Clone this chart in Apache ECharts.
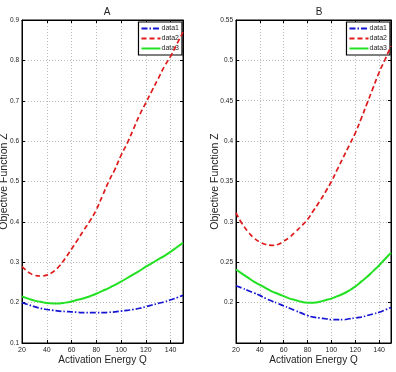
<!DOCTYPE html>
<html>
<head>
<meta charset="utf-8">
<script src="https://cdn.jsdelivr.net/npm/echarts@6/dist/echarts.min.js"></script>
<style>
  html, body { margin: 0; padding: 0; background: #fff; }
  #chart { width: 396px; height: 372px; }
</style>
</head>
<body>
<div id="chart"></div>
<script>
// Activation energy Q (x), shared by both panels
const q = [20, 25, 30, 35, 40, 45, 50, 55, 60, 65, 70, 75, 80, 85, 90, 95, 100,
           105, 110, 115, 120, 125, 130, 135, 140, 145, 150];

// Panel A
const aData1 = [0.200, 0.195, 0.190, 0.186, 0.183, 0.181, 0.179, 0.178, 0.177, 0.176, 0.175, 0.175, 0.175, 0.175,
                0.176, 0.177, 0.179, 0.181, 0.183, 0.186, 0.190, 0.194, 0.198, 0.202, 0.207, 0.212, 0.218];
const aData2 = [0.289, 0.276, 0.268, 0.266, 0.268, 0.276, 0.290, 0.310, 0.333, 0.356, 0.380, 0.403, 0.430, 0.465,
                0.500, 0.530, 0.565, 0.595, 0.630, 0.665, 0.695, 0.725, 0.755, 0.785, 0.810, 0.840, 0.870];
const aData3 = [0.215, 0.210, 0.205, 0.202, 0.199, 0.198, 0.198, 0.200, 0.203, 0.207, 0.211, 0.216, 0.222, 0.229,
                0.236, 0.244, 0.252, 0.261, 0.270, 0.279, 0.289, 0.298, 0.307, 0.316, 0.326, 0.337, 0.348];

// Panel B
const bData1 = [0.221, 0.218, 0.215, 0.212, 0.209, 0.205, 0.202, 0.199, 0.196, 0.193, 0.190, 0.187, 0.184, 0.182,
                0.181, 0.180, 0.179, 0.179, 0.179, 0.180, 0.181, 0.182, 0.184, 0.186, 0.188, 0.191, 0.194];
const bData2 = [0.311, 0.298, 0.288, 0.280, 0.275, 0.272, 0.271, 0.272, 0.276, 0.281, 0.288, 0.295, 0.303, 0.314,
                0.325, 0.337, 0.350, 0.365, 0.380, 0.395, 0.410, 0.428, 0.447, 0.466, 0.485, 0.501, 0.518];
const bData3 = [0.241, 0.236, 0.231, 0.226, 0.222, 0.218, 0.214, 0.211, 0.208, 0.205, 0.203, 0.201, 0.200, 0.200,
                0.201, 0.203, 0.205, 0.208, 0.211, 0.215, 0.220, 0.226, 0.232, 0.239, 0.246, 0.254, 0.262];

const titles = ["A", "B"];
const serieNames = ["data1", "data2", "data3"];
const xName = "Activation Energy Q";
const yName = "Objective Function Z";

const ink = "#222";
const font = "Liberation Sans, Arial, sans-serif";
const couleurs = ["#1414d2", "#e01a1a", "#22e022"];
const traits = [[6, 2, 1.5, 2], [5, 3], "solid"];
const largeurs = [1.7, 1.7, 2];

const grids = [
  { left: 22, right: 213, top: 20, bottom: 29 },
  { left: 236, right: 5, top: 20, bottom: 29 },
];
const yRanges = [
  { min: 0.1, max: 0.9, interval: 0.1 },
  { min: 0.15, max: 0.55, interval: 0.05 },
];

const pairs = (ys) => ys.map((y, i) => [q[i], y]);
const fmt = (v) => String(parseFloat(v.toFixed(2)));

const xAxis = [];
const yAxis = [];
grids.forEach((g, i) => {
  const base = { gridIndex: i, type: "value", min: 20, max: 150, interval: 20 };
  xAxis.push({
    ...base, position: "bottom",
    name: xName, nameLocation: "middle", nameGap: 12, nameMoveOverlap: false,
    nameTextStyle: { color: ink, fontSize: 10, fontFamily: font },
    axisLine: { lineStyle: { color: "#000", width: 1 } },
    axisTick: { inside: true, length: 3, lineStyle: { color: "#000" } },
    axisLabel: { color: ink, fontSize: 7, fontFamily: font, margin: 4, showMaxLabel: false },
    splitLine: { show: true, lineStyle: { color: "#bbb", type: [1, 2] } },
  });
  xAxis.push({
    ...base, position: "top",
    axisLine: { lineStyle: { color: "#000", width: 1 } },
    axisTick: { inside: true, length: 3, lineStyle: { color: "#000" } },
    axisLabel: { show: false }, splitLine: { show: false },
  });
  const yb = { gridIndex: i, type: "value", ...yRanges[i] };
  yAxis.push({
    ...yb, position: "left",
    name: yName, nameLocation: "middle", nameGap: i === 0 ? 12 : 15, nameMoveOverlap: false,
    nameTextStyle: { color: ink, fontSize: 10.5, fontFamily: font },
    axisLine: { show: true, lineStyle: { color: "#000", width: 1 } },
    axisTick: { show: true, inside: true, length: 3, lineStyle: { color: "#000" } },
    axisLabel: { color: ink, fontSize: 6.5, fontFamily: font, margin: 3, formatter: fmt, showMinLabel: i === 0 },
    splitLine: { show: true, lineStyle: { color: "#bbb", type: [1, 2] } },
  });
  yAxis.push({
    ...yb, position: "right",
    axisLine: { show: true, lineStyle: { color: "#000", width: 1 } },
    axisTick: { show: true, inside: true, length: 3, lineStyle: { color: "#000" } },
    axisLabel: { show: false }, splitLine: { show: false },
  });
});

const panels = [[aData1, aData2, aData3], [bData1, bData2, bData3]];
const series = [];
panels.forEach((sets, i) => {
  sets.forEach((ys, k) => {
    series.push({
      type: "line", name: serieNames[k],
      xAxisIndex: i * 2, yAxisIndex: i * 2,
      data: pairs(ys), smooth: true, showSymbol: false, symbol: "none",
      color: couleurs[k],
      lineStyle: { color: couleurs[k], width: largeurs[k], type: traits[k] },
      z: 3 + k,
    });
  });
});

const legend = grids.map((g, i) => ({
  orient: "vertical",
  right: i === 0 ? 213 + 1 : 5 + 1, top: 22,
  data: serieNames,
  itemWidth: 19, itemHeight: 8, itemGap: 3,
  padding: [3, 3, 3, 2],
  backgroundColor: "#fff", borderColor: "#000", borderWidth: 1.2,
  itemStyle: { opacity: 0 },
  textStyle: { color: ink, fontSize: 7, fontFamily: font, padding: [0, 0, 0, -4] },
  selectedMode: false,
}));

const chart = echarts.init(document.getElementById("chart"), null, { renderer: "canvas" });
chart.setOption({
  animation: false,
  backgroundColor: "#fff",
  title: titles.map((t, i) => ({
    text: t, left: i === 0 ? 102 : 314, top: 2, textAlign: "center",
    textStyle: { color: ink, fontSize: 10, fontWeight: "normal", fontFamily: font },
  })),
  grid: grids.map((g) => ({
    ...g, show: true, borderColor: "#000", borderWidth: 1, backgroundColor: "#fff",
    outerBoundsMode: "none",
  })),
  legend,
  xAxis, yAxis, series,
});
</script>
</body>
</html>
